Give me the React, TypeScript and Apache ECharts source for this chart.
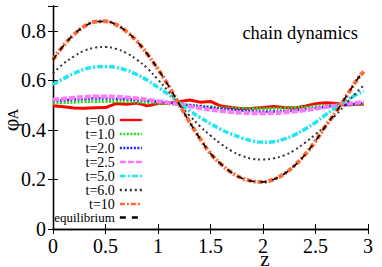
import React, { useEffect, useRef } from 'react';
import * as echarts from 'echarts';

const zValues = [0, 0.1, 0.2, 0.3, 0.4, 0.5, 0.6, 0.7, 0.8, 0.9, 1.0, 1.1, 1.2, 1.3, 1.4, 1.5, 1.6, 1.7, 1.8, 1.9, 2.0, 2.1, 2.2, 2.3, 2.4, 2.5, 2.6, 2.7, 2.8, 2.9, 2.96];

const seriesNames = ['t=0.0', 't=1.0', 't=2.0', 't=2.5', 't=5.0', 't=6.0', 't=10', 'equilibrium'];

const phiT0 = [0.497, 0.493, 0.488, 0.487, 0.489, 0.49, 0.506, 0.503, 0.508, 0.497, 0.506, 0.508, 0.514, 0.521, 0.512, 0.515, 0.496, 0.49, 0.485, 0.487, 0.49, 0.494, 0.49, 0.488, 0.496, 0.506, 0.51, 0.507, 0.5, 0.503, 0.503];
const phiT1 = [0.508, 0.51, 0.512, 0.514, 0.515, 0.515, 0.515, 0.514, 0.512, 0.51, 0.508, 0.505, 0.502, 0.499, 0.496, 0.493, 0.49, 0.488, 0.487, 0.486, 0.486, 0.487, 0.488, 0.49, 0.492, 0.495, 0.498, 0.5, 0.502, 0.504, 0.505];
const phiT2 = [0.517, 0.52, 0.523, 0.525, 0.527, 0.527, 0.526, 0.524, 0.521, 0.518, 0.514, 0.51, 0.505, 0.5, 0.495, 0.49, 0.486, 0.482, 0.478, 0.475, 0.474, 0.474, 0.476, 0.479, 0.483, 0.488, 0.493, 0.498, 0.502, 0.506, 0.508];
const phiT25 = [0.522, 0.526, 0.53, 0.533, 0.535, 0.535, 0.534, 0.531, 0.527, 0.522, 0.516, 0.51, 0.503, 0.495, 0.488, 0.481, 0.476, 0.472, 0.469, 0.467, 0.467, 0.468, 0.47, 0.474, 0.479, 0.485, 0.492, 0.499, 0.505, 0.51, 0.512];
const phiT5 = [0.582, 0.607, 0.628, 0.645, 0.654, 0.656, 0.652, 0.641, 0.623, 0.6, 0.572, 0.543, 0.51, 0.478, 0.45, 0.425, 0.402, 0.383, 0.367, 0.355, 0.35, 0.352, 0.363, 0.38, 0.403, 0.43, 0.462, 0.492, 0.52, 0.545, 0.557];
const phiT6 = [0.629, 0.667, 0.697, 0.72, 0.732, 0.735, 0.727, 0.71, 0.683, 0.648, 0.603, 0.555, 0.505, 0.458, 0.415, 0.377, 0.343, 0.315, 0.295, 0.283, 0.28, 0.285, 0.297, 0.318, 0.348, 0.382, 0.42, 0.463, 0.51, 0.555, 0.58];
const phiT10 = [0.683, 0.74, 0.785, 0.818, 0.836, 0.838, 0.825, 0.797, 0.757, 0.705, 0.645, 0.578, 0.505, 0.432, 0.365, 0.305, 0.262, 0.228, 0.205, 0.193, 0.19, 0.2, 0.222, 0.256, 0.3, 0.355, 0.418, 0.475, 0.54, 0.605, 0.635];
const phiEq = [0.683, 0.74, 0.785, 0.818, 0.836, 0.838, 0.825, 0.797, 0.757, 0.705, 0.645, 0.578, 0.505, 0.432, 0.365, 0.305, 0.262, 0.228, 0.205, 0.193, 0.19, 0.2, 0.222, 0.256, 0.3, 0.355, 0.418, 0.475, 0.54, 0.605, 0.635];

const xTicks = [0, 0.5, 1, 1.5, 2, 2.5, 3];
const yTicks = [0, 0.2, 0.4, 0.6, 0.8];

const SERIF = 'Liberation Serif';

const styles = [
  { color: '#ff0000', width: 3, type: 'solid' as any, smooth: false },
  { color: '#22dd22', width: 3, type: [2, 1.5], smooth: 0.4 },
  { color: '#2222ff', width: 2.5, type: [2, 1.5], smooth: 0.4 },
  { color: '#ff77ff', width: 4, type: [6, 2], smooth: 0.4 },
  { color: '#22e6ef', width: 3.5, type: [6, 2, 2, 2], smooth: 0.4 },
  { color: '#333333', width: 2, type: [2, 3], smooth: 0.4 },
  { color: '#ff6a3a', width: 4, type: [5, 2, 2, 2], smooth: 0.4 },
  { color: '#000000', width: 1.6, type: [6, 6], smooth: 0.4 },
];

const allValues = [phiT0, phiT1, phiT2, phiT25, phiT5, phiT6, phiT10, phiEq];

export default function App() {
  const ref = useRef<HTMLDivElement>(null);
  useEffect(() => {
    const chart = echarts.init(ref.current!, null, { renderer: 'svg' });
    const series = allValues.map((vals, i) => ({
      name: seriesNames[i],
      type: 'line',
      data: zValues.map((z, j) => [z, vals[j]]),
      showSymbol: false,
      symbol: 'none',
      smooth: styles[i].smooth,
      z: 2 + i,
      lineStyle: { color: styles[i].color, width: styles[i].width, type: styles[i].type },
      itemStyle: { color: styles[i].color },
    }));
    const axisCommon = {
      axisLine: { show: true, lineStyle: { color: '#000', width: 1.3 } },
      axisTick: { show: true, inside: true, length: 5, lineStyle: { color: '#000', width: 1 } },
      splitLine: { show: false },
    };
    chart.setOption({
      animation: false,
      backgroundColor: '#fff',
      grid: { left: 53, right: 14, top: 6, bottom: 38, containLabel: false },
      xAxis: [
        {
          type: 'value', min: 0, max: 3, interval: 0.5, position: 'bottom',
          ...axisCommon,
          axisLabel: {
            fontFamily: SERIF, fontSize: 20, color: '#000', margin: 7,
            formatter: (v: number) => (xTicks.includes(v) ? String(v) : ''),
          },
        },
        {
          type: 'value', min: 0, max: 3, interval: 0.5, position: 'top',
          ...axisCommon,
          axisLabel: { show: false },
        },
      ],
      yAxis: [
        {
          type: 'value', min: 0, max: 0.9, interval: 0.2, position: 'left',
          ...axisCommon,
          axisLabel: {
            fontFamily: SERIF, fontSize: 20, color: '#000', margin: 7,
            formatter: (v: number) => {
              const t = yTicks.find((y) => Math.abs(y - v) < 1e-6);
              if (t === undefined) return '';
              return t === 0 ? '0' : t.toFixed(1);
            },
          },
        },
        {
          type: 'value', min: 0, max: 0.9, interval: 0.2, position: 'right',
          ...axisCommon,
          axisLabel: { show: false },
        },
      ],
      legend: {
        orient: 'vertical',
        align: 'right',
        right: 239,
        top: 113,
        padding: 0,
        itemGap: 0,
        itemWidth: 22,
        itemHeight: 14,
        itemStyle: { opacity: 0, borderWidth: 0 },
        lineStyle: { width: 2.3 },
        textStyle: { fontFamily: SERIF, fontSize: 14, color: '#000' },
        data: seriesNames.map((n) =>
          n === 'equilibrium'
            ? { name: n, textStyle: { fontSize: 13, fontFamily: SERIF, color: '#000' } }
            : { name: n }
        ),
        selectedMode: false,
      },
      graphic: [
        {
          type: 'text', x: 358, y: 33,
          style: { text: 'chain dynamics', fontFamily: SERIF, fontSize: 18.5, fill: '#000', align: 'right', verticalAlign: 'middle' },
        },
        {
          type: 'text', x: 265, y: 259,
          style: { text: 'z', fontFamily: SERIF, fontSize: 21, fill: '#000', align: 'center', verticalAlign: 'middle' },
        },
        {
          type: 'text', x: 10, y: 125, rotation: Math.PI / 2,
          style: { text: 'φ', fontFamily: SERIF, fontSize: 22, fill: '#000', align: 'center', verticalAlign: 'middle' },
        },
        {
          type: 'text', x: 13, y: 114, rotation: Math.PI / 2,
          style: { text: 'A', fontFamily: SERIF, fontSize: 15, fill: '#000', align: 'center', verticalAlign: 'middle' },
        },
      ],
      series,
    });
    return () => chart.dispose();
  }, []);
  return <div ref={ref} style={{ position: 'absolute', left: 0, top: 0, width: 382, height: 267 }} />;
}
